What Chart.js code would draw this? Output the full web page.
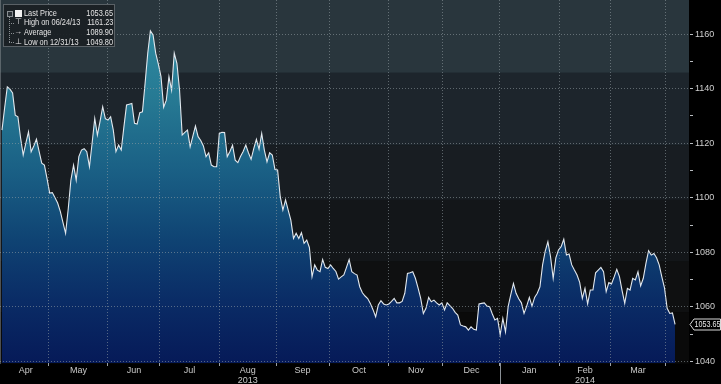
<!DOCTYPE html>
<html><head><meta charset="utf-8">
<script src="https://cdn.jsdelivr.net/npm/chart.js@4.4.1/dist/chart.umd.min.js"></script>
<style>
html,body{margin:0;padding:0;background:#000;overflow:hidden}
#wrap{position:relative;width:721px;height:384px}
canvas{display:block}
#legend{position:absolute;left:3px;top:4px;width:112px;height:43px;background:rgba(26,31,36,0.93);border:1px solid #5a6166;box-sizing:border-box;font-family:"Liberation Sans",Arial,sans-serif;font-size:8.6px;color:#e4e4e4}
.row{position:absolute;left:0;width:109px;height:10px;line-height:10px;white-space:nowrap}
.lbl{position:absolute;left:20px;transform:scaleX(0.86);transform-origin:left center}
.val{position:absolute;right:0;transform:scaleX(0.86);transform-origin:right center}
.ic{position:absolute;left:10px;width:8px;text-align:center;font-size:8px}
.sq{position:absolute;left:11px;top:1.5px;width:7px;height:7px;background:#f2f2f2}
#tree{position:absolute;left:5px;top:9px;width:4px;height:28px;border-left:1px dotted #8a8f93}
.br{position:absolute;left:5px;width:5px;height:0;border-top:1px dotted #8a8f93}
#root{position:absolute;left:3px;top:6px;width:4px;height:4px;border:1px solid #8a8f93;background:#2a3035}
</style></head>
<body><div id="wrap"><canvas id="c" width="721" height="384"></canvas>
<div id="legend">
  <div id="tree"></div><div id="root"></div>
  <div class="br" style="top:18px"></div><div class="br" style="top:28px"></div><div class="br" style="top:37px"></div>
  <div class="row" style="top:3px"><span class="sq"></span><span class="lbl" id="l0"></span><span class="val" id="v0"></span></div>
  <div class="row" style="top:12px"><span class="ic">&#8868;</span><span class="lbl" id="l1"></span><span class="val" id="v1"></span></div>
  <div class="row" style="top:22px"><span class="ic">&#8594;</span><span class="lbl" id="l2"></span><span class="val" id="v2"></span></div>
  <div class="row" style="top:31.5px"><span class="ic">&#8869;</span><span class="lbl" id="l3"></span><span class="val" id="v3"></span></div>
</div></div>
<script>
// ---- data ----
const prices = [
1124.8,1133,1140.7,1139.8,1138.4,1130.3,1129.7,1122,1115.7,1120,
1124.2,1116.9,1119,1121.5,1117,1112.7,1112,1107,1101.7,1101.9,
1100,1098.1,1095,1091,1087,1096,1106.5,1112,1106.5,1115.1,
1117.5,1118,1116.9,1111.4,1120,1129.1,1123,1128,1133.4,1129,
1128.5,1129.7,1124.8,1116.9,1119.3,1117.5,1126,1134,1134.3,1134.6,
1127.3,1127,1131.2,1131.5,1142,1153,1161.23,1159.7,1153,1149,
1144.4,1133.2,1135.8,1144.4,1139.5,1153,1149.3,1139.5,1123,1124,
1124.8,1118.7,1122.5,1126.3,1122.4,1121,1119,1115.1,1116.5,1112,
1111.4,1111.4,1123.6,1124,1123.9,1115.1,1117,1119.3,1113.8,1112.9,
1115.1,1117,1119.3,1116.5,1114.1,1118,1121.4,1117.8,1123.6,1117.5,
1113.2,1116.5,1115.7,1110.4,1110.2,1100.4,1095.5,1099.2,1095.5,1091.8,
1085.1,1087,1085.1,1087.2,1083.3,1084.5,1081.8,1071.1,1075.4,1073.5,
1072.9,1077.4,1074.5,1074.1,1075.4,1074.1,1073,1070.2,1071,1071.7,
1074.5,1077.4,1072.9,1072.2,1071.7,1067.4,1065.2,1064,1063.1,1061.3,
1059,1056.4,1060.7,1062.3,1061.1,1060.7,1061.1,1062,1063.1,1061.5,
1061.5,1062,1065,1072.3,1072.5,1072.9,1070.5,1067,1063.1,1057.6,
1059.5,1063.5,1061.9,1062.5,1061.5,1060.7,1061.5,1058.9,1061.5,1060.5,
1059.5,1058,1057,1053.4,1053,1052.7,1051.5,1052.7,1051.8,1051.5,
1061.1,1061.3,1061.5,1060.3,1060.1,1057.5,1055.2,1055.8,1049.8,1055.8,
1050.9,1060.1,1064.5,1068.6,1065,1063,1061.5,1057.6,1060.3,1063.5,
1060.3,1063.5,1065,1067.4,1075.4,1080.5,1083.9,1078.4,1070.5,1078,
1080.9,1082.1,1084.8,1079,1079.4,1075.4,1073.5,1071.7,1069,1063.1,
1066.8,1061.1,1066.2,1066.2,1072.5,1073.5,1074.5,1072.9,1065.6,1068.9,
1068.4,1071,1073.8,1071.1,1066,1061.3,1066.8,1066.2,1070.5,1069.9,
1072.9,1067.7,1070.5,1076,1080.6,1079,1079.6,1078,1075.4,1071,
1067,1059.5,1057.6,1057.8,1053.65
];
const monthNames   = ['Apr','May','Jun','Jul','Aug','Sep','Oct','Nov','Dec','Jan','Feb','Mar'];
const monthCenters = [9, 28.9, 49.8, 70.8, 92.7, 113.4, 134.7, 156.2, 177.2, 199, 220, 240];
const monthStarts  = [17.7, 40, 59.6, 81.9, 103.4, 123.4, 146, 166.4, 187.9, 210.2, 229.8, 250.2];
const yearNames    = ['2013', '2014'];
const yearUnder    = ['Aug', 'Feb'];
const yearStart    = 187.9;
const yMajorTicks  = [1040, 1060, 1080, 1100, 1120, 1140, 1160];
const yMinorTicks  = [1050, 1070, 1090, 1110, 1130, 1150];
const legendLabels = ['Last Price', 'High on 06/24/13', 'Average', 'Low on 12/31/13'];
const legendValues = [1053.65, 1161.23, 1089.90, 1049.80];
const lastPrice = legendValues[0];

legendLabels.forEach((t,i)=>{document.getElementById('l'+i).textContent=t;
  document.getElementById('v'+i).textContent=legendValues[i].toFixed(2);});

const FONT = '"Liberation Sans",Arial,sans-serif';
const GRID = 'rgba(150,160,166,0.55)';

const bgPlugin = {
  id: 'bg',
  beforeDraw(chart) {
    const {ctx, chartArea: ca} = chart;
    ctx.save();
    ctx.fillStyle = '#000';
    ctx.fillRect(0, 0, chart.width, chart.height);
    const bands = [[0,0.2,'#29363d'],[0.2,0.4,'#1d252c'],[0.4,0.55,'#181d22'],[0.55,0.72,'#131619'],[0.72,0.86,'#0f1011'],[0.86,1,'#0a0a0a']];
    const h = ca.bottom - ca.top;
    bands.forEach(([a,b,c])=>{ctx.fillStyle=c; ctx.fillRect(ca.left, ca.top+a*h, ca.right-ca.left, (b-a)*h+0.5);});
    ctx.restore();
  },
  afterDraw(chart) {
    const {ctx, chartArea: ca} = chart;
    const xs = chart.scales.x, ys = chart.scales.y;
    ctx.save();
    const xj = Math.round(xs.getPixelForValue(yearStart)) + 0.5;
    ctx.strokeStyle = '#8a9096'; ctx.lineWidth = 1;
    ctx.beginPath(); ctx.moveTo(xj, ca.bottom); ctx.lineTo(xj, chart.height); ctx.stroke();
    const y = Math.round(ys.getPixelForValue(lastPrice)) + 0.5;
    ctx.fillStyle = '#000'; ctx.strokeStyle = '#d8d8d8';
    ctx.beginPath();
    ctx.moveTo(ca.right + 1, y); ctx.lineTo(ca.right + 5, y - 5.5); ctx.lineTo(chart.width - 0.5, y - 5.5);
    ctx.lineTo(chart.width - 0.5, y + 5.5); ctx.lineTo(ca.right + 5, y + 5.5); ctx.closePath();
    ctx.fill(); ctx.stroke();
    ctx.fillStyle = '#e8e8e8'; ctx.font = '9px ' + FONT; ctx.textAlign = 'center'; ctx.textBaseline = 'middle';
    ctx.translate((ca.right + 5 + chart.width) / 2, y + 0.5);
    ctx.scale(0.8, 1);
    ctx.fillText(lastPrice.toFixed(2), 0, 0);
    ctx.restore();
  }
};

const areaFill = (c) => {
  const ca = c.chart.chartArea;
  if (!ca) return 'rgba(0,0,0,0)';
  const g = c.chart.ctx.createLinearGradient(0, ca.top, 0, ca.bottom);
  g.addColorStop(0, '#3596ac');
  g.addColorStop(0.083, '#2f8aa1');
  g.addColorStop(0.275, '#267993');
  g.addColorStop(0.468, '#1a6085');
  g.addColorStop(0.661, '#0f4373');
  g.addColorStop(0.826, '#0a2c66');
  g.addColorStop(1, '#061a58');
  return g;
};

new Chart(document.getElementById('c'), {
  type: 'line',
  data: {
    datasets: [{
      data: prices.map((p, i) => ({x: i, y: p})),
      borderColor: '#e2e8ee',
      borderWidth: 1.1,
      pointRadius: 0,
      tension: 0,
      fill: 'start',
      backgroundColor: areaFill
    }]
  },
  options: {
    responsive: false,
    devicePixelRatio: 1,
    animation: false,
    events: [],
    layout: {padding: 0},
    plugins: {legend: {display: false}, tooltip: {enabled: false}},
    scales: {
      x: {
        type: 'linear',
        min: -0.755, max: 259.25,
        afterBuildTicks(s) {
          const all = monthStarts.concat(monthCenters).sort((a, b) => a - b);
          s.ticks = all.map(v => ({value: v}));
        },
        afterFit(s) { s.height = 21; s.paddingLeft = 0; s.paddingRight = 0; },
        ticks: {
          autoSkip: false, maxRotation: 0, minRotation: 0, padding: 0,
          color: '#c9c9c9',
          font: {family: FONT, size: 9, lineHeight: 1.1},
          callback(v) {
            const i = monthCenters.indexOf(v);
            if (i < 0) return '';
            const yi = yearUnder.indexOf(monthNames[i]);
            return yi >= 0 ? [monthNames[i], yearNames[yi]] : monthNames[i];
          }
        },
        grid: {
          z: 1,
          color: c => (c.tick && monthStarts.includes(c.tick.value)) ? GRID : 'rgba(0,0,0,0)',
          tickColor: c => (c.tick && monthStarts.includes(c.tick.value)) ? '#9aa0a5' : 'rgba(0,0,0,0)',
          tickLength: 3,
          lineWidth: 1
        },
        border: {display: false, dash: [1, 2]}
      },
      y: {
        type: 'linear',
        position: 'right',
        min: 1039.45, max: 1172.5,
        afterBuildTicks(s) {
          s.ticks = yMajorTicks.concat(yMinorTicks).sort((a, b) => a - b).map(v => ({value: v}));
        },
        afterFit(s) { s.width = 32; s.paddingTop = 0; s.paddingBottom = 0; },
        ticks: {
          padding: 2,
          color: '#cfcfcf',
          font: {family: FONT, size: 9},
          callback: v => yMajorTicks.includes(v) ? String(v) : ''
        },
        grid: {
          z: 1,
          color: c => (c.tick && yMajorTicks.includes(c.tick.value)) ? GRID : 'rgba(0,0,0,0)',
          tickColor: '#b8bcc0',
          tickLength: 4,
          lineWidth: 1
        },
        border: {display: true, color: '#8d9398', width: 1, dash: [1, 2]}
      }
    }
  },
  plugins: [bgPlugin]
});
</script>
</body></html>
